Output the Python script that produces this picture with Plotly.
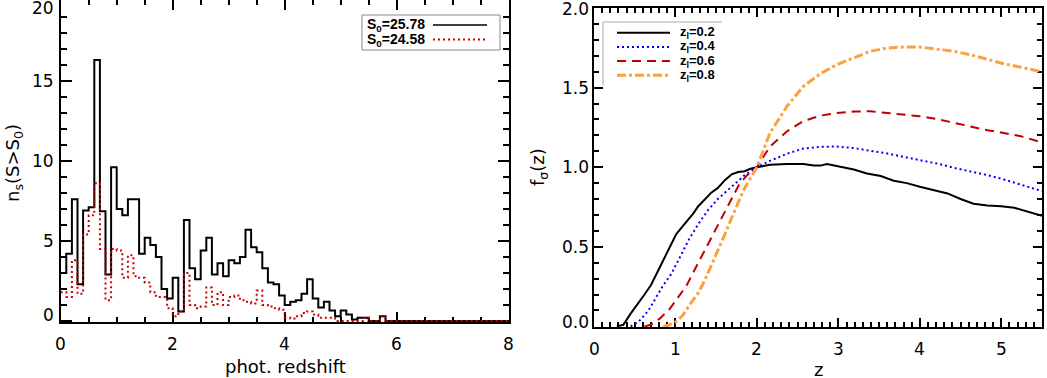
import numpy as np
import plotly.graph_objects as go

W, H = 1047, 378

# ---------------- data: left panel (histograms, bin width 0.1 in z) ----------------
bin_width = 0.1
ns_bright = [3.0, 4.2, 7.6, 2.3, 6.9, 7.1, 16.3, 6.85, 2.9, 9.6,
             7.0, 6.6, 7.6, 7.6, 4.2, 5.2, 4.75, 4.0, 2.0, 1.4,
             2.7, 0.6, 6.3, 3.3, 2.6, 4.4, 5.2, 2.9, 3.6, 2.8,
             3.8, 3.6, 4.0, 5.7, 4.6, 4.3, 3.3, 2.4, 2.3, 1.6,
             1.0, 1.2, 1.3, 1.7, 2.6, 1.4, 0.85, 1.2, 0.65, 0.3,
             0.65, 0.4, 0.1, 0.2, 0.2, 0.0, 0.0, 0.3, 0.0, 0.0,
             0, 0, 0, 0, 0, 0, 0, 0, 0, 0,
             0, 0, 0, 0, 0, 0, 0, 0, 0, 0]
ns_faint = [1.8, 1.5, 3.8, 1.7, 5.4, 6.6, 8.6, 4.5, 1.3, 4.5,
            4.4, 2.7, 4.1, 2.8, 2.7, 2.4, 1.8, 1.5, 1.5, 0.8,
            0.3, 0.6, 3.0, 1.0, 0.8, 0.9, 2.1, 1.0, 1.8, 1.0,
            1.5, 1.6, 1.3, 1.2, 1.1, 1.9, 1.0, 0.9, 0.8, 0.7,
            0.2, 0.15, 0.3, 0.5, 0.6, 0.4, 0.2, 0.2, 0.2, 0.0,
            0.0, 0.0, 0.0, 0.0, 0.2, 0.0, 0.0, 0.3, 0.0, 0.0,
            0, 0, 0, 0, 0, 0, 0, 0, 0, 0,
            0, 0, 0, 0, 0, 0, 0, 0, 0, 0]
hist_labels = ["S<sub>0</sub>=25.78", "S<sub>0</sub>=24.58"]
left_xticks = [0, 2, 4, 6, 8]
left_yticks = [0, 5, 10, 15, 20]
right_xticks = [0, 1, 2, 3, 4, 5]
right_yticks = [0.0, 0.5, 1.0, 1.5, 2.0]

# ---------------- data: right panel (f_sigma(z) curves) ----------------
z_02 = [0.28, 0.36, 0.45, 0.54, 0.62, 0.70, 0.78, 0.86, 0.93, 1.01, 1.09, 1.16, 1.22,
        1.28, 1.36, 1.44, 1.52, 1.61, 1.69, 1.77, 1.85, 1.92, 2.0, 2.16, 2.37, 2.57,
        2.70, 2.78, 2.86, 3.02, 3.19, 3.35, 3.52, 3.68, 3.84, 4.0, 4.17, 4.34, 4.5,
        4.66, 4.83, 5.0, 5.16, 5.32, 5.5]
f_02 = [0.0, 0.01, 0.08, 0.14, 0.20, 0.26, 0.34, 0.43, 0.50, 0.58, 0.63, 0.67, 0.71,
        0.755, 0.80, 0.84, 0.87, 0.92, 0.955, 0.97, 0.975, 0.99, 1.0, 1.015, 1.02, 1.02,
        1.01, 1.01, 1.02, 1.005, 0.985, 0.96, 0.945, 0.915, 0.90, 0.877, 0.856, 0.835, 0.80,
        0.77, 0.76, 0.755, 0.745, 0.72, 0.695]
z_04 = [0.45, 0.55, 0.67, 0.84, 0.95, 1.05, 1.17, 1.29, 1.40, 1.52, 1.65, 1.73, 1.85,
        2.0, 2.16, 2.37, 2.57, 2.78, 2.98, 3.19, 3.39, 3.6, 3.8, 4.0, 4.21, 4.42, 4.62,
        4.83, 5.03, 5.24, 5.5]
f_04 = [0.0, 0.03, 0.10, 0.25, 0.33, 0.43, 0.55, 0.65, 0.73, 0.80, 0.86, 0.90, 0.95,
        1.0, 1.04, 1.085, 1.117, 1.128, 1.13, 1.12, 1.105, 1.086, 1.065, 1.044, 1.023,
        0.996, 0.975, 0.95, 0.923, 0.89, 0.85]
z_06 = [0.62, 0.70, 0.81, 0.93, 1.03, 1.14, 1.22, 1.30, 1.38, 1.46, 1.54, 1.62, 1.70,
        1.78, 1.88, 2.0, 2.16, 2.37, 2.57, 2.78, 2.98, 3.19, 3.39, 3.6, 3.8, 4.0, 4.21,
        4.42, 4.62, 4.83, 5.03, 5.24, 5.5]
f_06 = [0.0, 0.01, 0.05, 0.11, 0.18, 0.26, 0.34, 0.42, 0.50, 0.58, 0.66, 0.74, 0.82,
        0.89, 0.95, 1.0, 1.13, 1.226, 1.29, 1.324, 1.34, 1.35, 1.351, 1.34, 1.33, 1.32,
        1.303, 1.28, 1.257, 1.232, 1.215, 1.195, 1.155]
z_08 = [0.85, 0.92, 1.01, 1.09, 1.18, 1.28, 1.36, 1.44, 1.52, 1.60, 1.68, 1.76, 1.84,
        1.92, 2.0, 2.16, 2.37, 2.57, 2.78, 2.98, 3.19, 3.39, 3.6, 3.8, 4.0, 4.21, 4.42,
        4.62, 4.83, 5.03, 5.24, 5.5]
f_08 = [0.0, 0.01, 0.03, 0.07, 0.14, 0.21, 0.29, 0.38, 0.47, 0.57, 0.67, 0.77, 0.86,
        0.93, 1.0, 1.215, 1.383, 1.508, 1.588, 1.644, 1.686, 1.728, 1.749, 1.755, 1.755,
        1.743, 1.728, 1.707, 1.68, 1.65, 1.628, 1.60]
curve_labels = ["z<sub>l</sub>=0.2", "z<sub>l</sub>=0.4", "z<sub>l</sub>=0.6", "z<sub>l</sub>=0.8"]

# ---------------- styles ----------------
FONT = "DejaVu Sans, Liberation Sans, sans-serif"
LEGFONT = "Liberation Sans, Arial, sans-serif"
col_black = "#000000"
col_red_hist = "#CC0000"
col_blue = "#0000FF"
col_red = "#C00000"
col_orange = "#FFA040"
curve_styles = [
    dict(color=col_black, width=2, dash="solid"),
    dict(color=col_blue, width=2, dash="2px,3px"),
    dict(color=col_red, width=2, dash="9px,6px"),
    dict(color=col_orange, width=3, dash="9px,3px,3px,3px"),
]


def px(x):
    return x / W


def py(y):
    return 1 - y / H


fig = go.Figure()

# histogram step lines
edges = np.round(np.arange(0, 8.0 + 1e-9, bin_width), 1)
for vals, col, dash in [(ns_bright, col_black, "solid"), (ns_faint, col_red_hist, "2px,3px")]:
    yv = list(vals) + [vals[-1]]
    fig.add_trace(go.Scatter(x=edges, y=yv, mode="lines", line_shape="hv",
                             line=dict(color=col, width=2, dash=dash),
                             xaxis="x", yaxis="y", showlegend=False, hoverinfo="skip"))

# curves
for zz, ff, st in zip([z_02, z_04, z_06, z_08], [f_02, f_04, f_06, f_08], curve_styles):
    fig.add_trace(go.Scatter(x=zz, y=ff, mode="lines", line=st,
                             xaxis="x2", yaxis="y2", showlegend=False, hoverinfo="skip"))

tickfont = dict(family=FONT, size=17, color="black")
common = dict(showline=True, linewidth=2, linecolor="black", mirror="allticks",
              ticks="inside", tickwidth=1.5, tickcolor="black", showgrid=False,
              zeroline=False, showticklabels=False, fixedrange=True, automargin=False,
              layer="below traces")

fig.update_layout(
    template="none",
    width=W, height=H,
    margin=dict(l=0, r=0, t=0, b=0),
    paper_bgcolor="white", plot_bgcolor="white",
    showlegend=False,
    xaxis=dict(domain=[px(60.7), px(508.7)], range=[0, 8], tickmode="array",
               tickvals=left_xticks, ticklen=10,
               minor=dict(dtick=0.5, ticks="inside", ticklen=5, tickcolor="black", tickwidth=1.5),
               anchor="y", **common),
    yaxis=dict(domain=[py(322.3), py(0.3)], range=[-0.08, 20.02], tickmode="array",
               tickvals=left_yticks, ticklen=11,
               minor=dict(dtick=1, ticks="inside", ticklen=6, tickcolor="black", tickwidth=1.5),
               anchor="x", **common),
    xaxis2=dict(domain=[px(594), px(1042)], range=[0, 5.5], tickmode="array",
                tickvals=right_xticks, ticklen=9,
                minor=dict(dtick=0.1, ticks="inside", ticklen=5, tickcolor="black", tickwidth=1.5),
                anchor="y2", **common),
    yaxis2=dict(domain=[py(327), py(7.7)], range=[-0.004, 2.002], tickmode="array",
                tickvals=right_yticks, ticklen=9,
                minor=dict(dtick=0.1, ticks="inside", ticklen=5, tickcolor="black", tickwidth=1.5),
                anchor="x2", **common),
)

ann = []


def tick_ann(x, y, text, xref, yref, xanchor):
    ann.append(dict(x=x, y=y, xref=xref, yref=yref, text=text, showarrow=False,
                    font=tickfont, xanchor=xanchor, yanchor="middle", borderpad=0))


# tick labels (placed through the axes' own scales)
for v in left_xticks:
    tick_ann(v, py(344), str(v), "x", "paper", "center")
for v in right_xticks:
    tick_ann(v, py(349), str(v), "x2", "paper", "center")
for v in left_yticks:
    # end labels nudged inward like the original
    if v == left_yticks[-1]:
        tick_ann(px(55), py(7.5), str(v), "paper", "paper", "right")
    elif v == left_yticks[0]:
        tick_ann(px(55), py(315), str(v), "paper", "paper", "right")
    else:
        tick_ann(px(55), v, str(v), "paper", "y", "right")
for v in right_yticks:
    if v == right_yticks[0]:
        tick_ann(px(590), py(321.5), "%.1f" % v, "paper", "paper", "right")
    elif v == right_yticks[-1]:
        tick_ann(px(590), py(9), "%.1f" % v, "paper", "paper", "right")
    else:
        tick_ann(px(590), v, "%.1f" % v, "paper", "y2", "right")

titlefont = dict(family=FONT, size=18, color="black")
ann.append(dict(x=px(285), y=py(366), xref="paper", yref="paper", text="phot. redshift",
                showarrow=False, font=titlefont, xanchor="center", yanchor="middle"))
ann.append(dict(x=px(14), y=py(163), xref="paper", yref="paper",
                text="n<sub>s</sub>(S&gt;S<sub>0</sub>)", textangle=-90,
                showarrow=False, font=titlefont, xanchor="center", yanchor="middle"))
ann.append(dict(x=px(818), y=py(369), xref="paper", yref="paper", text="z",
                showarrow=False, font=titlefont, xanchor="center", yanchor="middle"))
ann.append(dict(x=px(539), y=py(167), xref="paper", yref="paper",
                text="f<sub>σ</sub>(z)", textangle=-90,
                showarrow=False, font=titlefont, xanchor="center", yanchor="middle"))

shapes = []
# left legend
shapes.append(dict(type="rect", xref="paper", yref="paper", x0=px(362), x1=px(500),
                   y0=py(50), y1=py(15), line=dict(color="#888888", width=1), fillcolor="white"))
leg_font = dict(family=LEGFONT, size=14, color="black")
for i, (lab, col, dash) in enumerate(zip(hist_labels, [col_black, col_red_hist], ["solid", "2px,3px"])):
    yy = 25 + 14.5 * i
    ann.append(dict(x=px(365), y=py(yy), xref="paper", yref="paper", text="<b>" + lab + "</b>",
                    showarrow=False, font=leg_font, xanchor="left", yanchor="middle"))
    shapes.append(dict(type="line", xref="paper", yref="paper", x0=px(433), x1=px(487),
                       y0=py(yy), y1=py(yy), line=dict(color=col, width=1.5 if i == 0 else 2, dash=dash)))

# right legend
shapes.append(dict(type="line", xref="paper", yref="paper", x0=px(603), x1=px(722),
                   y0=py(22), y1=py(22), line=dict(color="#AAAAAA", width=1)))
shapes.append(dict(type="line", xref="paper", yref="paper", x0=px(603), x1=px(603),
                   y0=py(22), y1=py(85), line=dict(color="#AAAAAA", width=1)))
leg_font2 = dict(family=LEGFONT, size=13, color="black")
for i, (lab, st) in enumerate(zip(curve_labels, curve_styles)):
    yy = 32.7 + 14.2 * i
    shapes.append(dict(type="line", xref="paper", yref="paper", x0=px(617), x1=px(670),
                       y0=py(yy), y1=py(yy), line=st))
    ann.append(dict(x=px(678), y=py(yy), xref="paper", yref="paper", text="<b>" + lab + "</b>",
                    showarrow=False, font=leg_font2, xanchor="left", yanchor="middle"))

fig.update_layout(annotations=ann, shapes=shapes)
fig.write_html("out.html", config={"displayModeBar": False},
               post_script="document.body.style.margin='0px';document.body.style.padding='0px';"
                           "document.body.style.overflow='hidden';")
